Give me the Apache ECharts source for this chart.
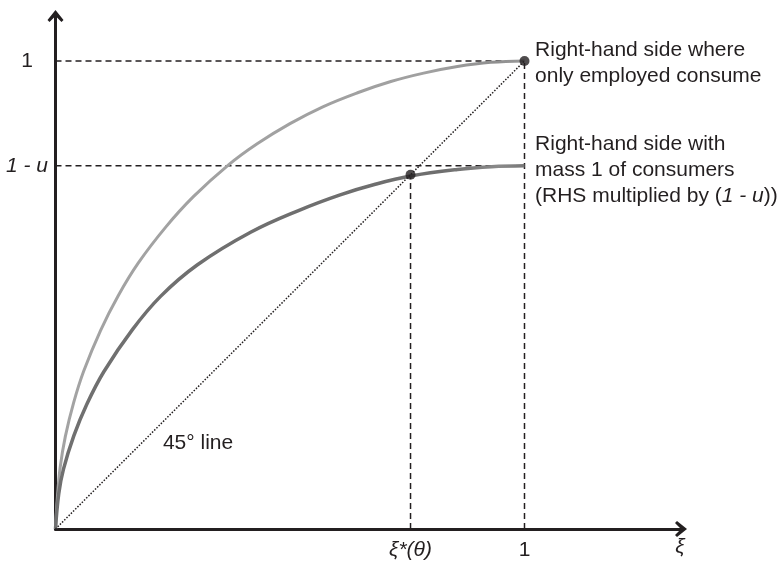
<!DOCTYPE html>
<html><head><meta charset="utf-8">
<script src="https://cdn.jsdelivr.net/npm/echarts@6/dist/echarts.min.js"></script>
<style>html,body{margin:0;padding:0;background:#fff}#c{width:782px;height:563px}</style>
</head><body><div id="c"></div>
<script>
// ---- data ----
const xiUpper  = [0, 0.004, 0.010, 0.021, 0.039, 0.060, 0.096, 0.134, 0.177, 0.235, 0.294, 0.369, 0.430, 0.500, 0.570, 0.644, 0.715, 0.785, 0.857, 0.928, 1.000];
const rhsUpper = [0, 0.067, 0.132, 0.198, 0.271, 0.337, 0.424, 0.499, 0.569, 0.645, 0.710, 0.778, 0.823, 0.866, 0.902, 0.932, 0.956, 0.974, 0.988, 0.997, 1.000];
const xiLower  = [0, 0.007, 0.017, 0.039, 0.067, 0.103, 0.164, 0.224, 0.302, 0.416, 0.522, 0.607, 0.680, 0.757, 0.857, 0.930, 1.000];
const rhsLower = [0, 0.076, 0.128, 0.199, 0.267, 0.336, 0.426, 0.497, 0.564, 0.634, 0.682, 0.714, 0.736, 0.754, 0.768, 0.774, 0.776];
const oneMinusU = 0.776;
const xiStar = 0.757;
const diagonal = [[0, 0], [1, 1]];
const yTickValues = [oneMinusU, 1];
const yTickLabels = ['{i|1 - u}', '1'];
const xTickValues = [xiStar, 1];
const xTickLabels = ['{i|ξ*(θ)}', '1'];
const upperLabel = 'Right-hand side where\nonly employed consume';
const lowerLabel = 'Right-hand side with\nmass 1 of consumers\n(RHS multiplied by ({i|1 - u}))';
const diagLabel = '45° line';
const diagLabelAt = [0.304, 0.183];

// ---- chart ----
const FONT = '"Liberation Sans", Arial, Helvetica, sans-serif';
const INK = '#231f20';
const FS = 21;
const arrow = 'path://M8,0 L16,10 L14,12 L8,6 L2,12 L0,10 Z';
const rich = { i: { fontStyle: 'italic', fontSize: FS, fontFamily: FONT, color: INK, lineHeight: 26 } };
const txt = { color: INK, fontSize: FS, fontFamily: FONT, lineHeight: 26, rich: rich };

function zip(a, b) { return a.map((v, i) => [v, b[i]]); }
function pick(vals, labels) {
  return v => { const k = vals.findIndex(t => Math.abs(t - v) < 1e-6); return k >= 0 ? labels[k] : ''; };
}
const dashStyle = { color: INK, width: 1.5, type: [6, 4] };
function guide(data) {
  return { type: 'line', data: data, symbol: 'none', silent: true, lineStyle: dashStyle, z: 1 };
}
function note(coord, text, pos, dist, off) {
  return {
    symbol: 'circle', symbolSize: 0.1, silent: true, itemStyle: { color: 'rgba(0,0,0,0)' },
    label: { show: true, position: pos, distance: dist, offset: off, formatter: text, ...txt },
    data: [{ coord: coord }]
  };
}

const chart = echarts.init(document.getElementById('c'), null, { renderer: 'canvas' });
chart.setOption({
  animation: false,
  backgroundColor: '#ffffff',
  grid: { left: 55.5, top: 16, right: 101, bottom: 33, containLabel: false },
  xAxis: {
    type: 'value', min: 0, max: 1.3337,
    splitLine: { show: false }, axisTick: { show: false },
    axisLine: { show: true, onZero: false, symbol: ['none', arrow], symbolSize: [16, 12], lineStyle: { color: INK, width: 3 } },
    axisLabel: { customValues: xTickValues, formatter: pick(xTickValues, xTickLabels), margin: 8, ...txt },
    name: 'ξ', nameLocation: 'end', nameGap: -1,
    nameTextStyle: { fontStyle: 'italic', fontSize: FS, fontFamily: FONT, color: INK, align: 'center', verticalAlign: 'top', padding: [8, 0, 0, 0] }
  },
  yAxis: {
    type: 'value', min: 0, max: 1.096,
    splitLine: { show: false }, axisTick: { show: false },
    axisLine: { show: true, onZero: false, symbol: ['none', arrow], symbolSize: [16, 12], lineStyle: { color: INK, width: 3 } },
    axisLabel: { customValues: yTickValues, formatter: pick(yTickValues, yTickLabels), margin: 28.5, align: 'center', ...txt }
  },
  series: [
    guide([[0, 1], [1, 1]]),
    guide([[0, oneMinusU], [1, oneMinusU]]),
    guide([[1, 0], [1, 1]]),
    guide([[xiStar, 0], [xiStar, xiStar]]),
    {
      type: 'line', data: zip(xiUpper, rhsUpper), symbol: 'none', smooth: 0.4, z: 3, silent: true,
      lineStyle: { width: 3, color: { type: 'linear', x: 0, y: 0, x2: 1, y2: 0, colorStops: [
        { offset: 0, color: '#a3a3a3' }, { offset: 0.8, color: '#a0a0a0' }, { offset: 0.93, color: '#8f8f8f' }, { offset: 1, color: '#9a9a9a' }] } },
      markPoint: note([1, 1], upperLabel, 'right', 10.5, [0, 2])
    },
    {
      type: 'line', data: zip(xiLower, rhsLower), symbol: 'none', smooth: 0.4, z: 3, silent: true,
      lineStyle: { width: 3.5, color: { type: 'linear', x: 0, y: 0, x2: 1, y2: 0, colorStops: [
        { offset: 0, color: '#707070' }, { offset: 0.82, color: '#6e6e6e' }, { offset: 0.94, color: '#8a8a8a' }, { offset: 1, color: '#767676' }] } },
      markPoint: note([1, oneMinusU], lowerLabel, 'right', 10.5, [0, 4])
    },
    {
      type: 'line', data: diagonal, symbol: 'none', z: 4, silent: true,
      lineStyle: { color: INK, width: 1.5, type: [1.5, 1.6] },
      markPoint: note(diagLabelAt, diagLabel, 'inside', 0, [0, 0])
    },
    {
      type: 'scatter', data: [[1, 1], [xiStar, xiStar]], symbol: 'circle', symbolSize: 10, z: 5, silent: true,
      itemStyle: { color: INK }
    }
  ]
});
</script>
</body></html>
